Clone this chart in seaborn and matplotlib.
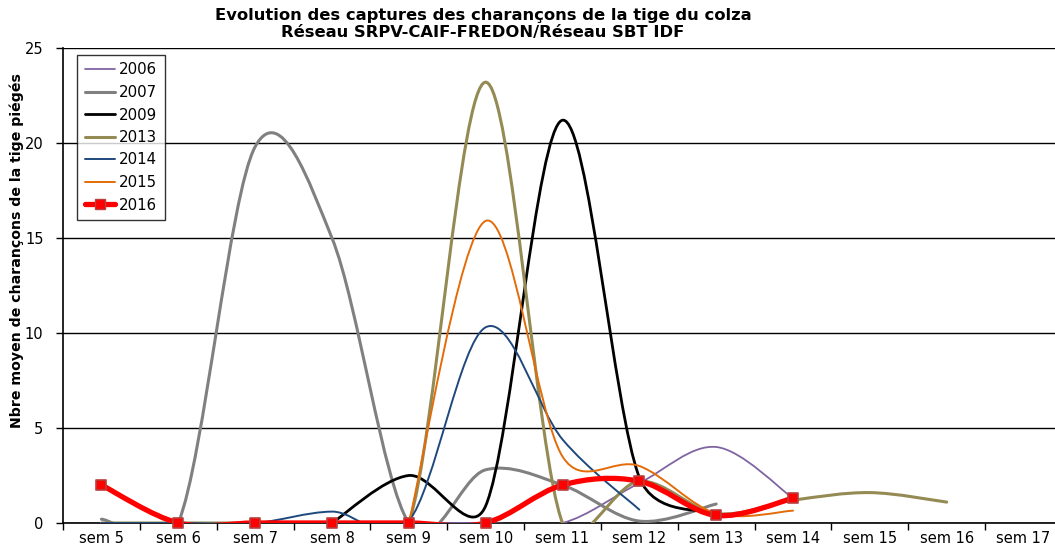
import matplotlib
matplotlib.use('Agg')
import matplotlib.pyplot as plt
from matplotlib.path import Path
from matplotlib.patches import PathPatch
from matplotlib.lines import Line2D
import seaborn as sns
import pandas as pd
import math

# donnees
semaines = ['sem 5', 'sem 6', 'sem 7', 'sem 8', 'sem 9', 'sem 10', 'sem 11',
            'sem 12', 'sem 13', 'sem 14', 'sem 15', 'sem 16', 'sem 17']

v2006 = [0, 0, 0, 0, 0, 0, 0, 2.1, 4.0, 1.3, None, None, None]
v2007 = [0.2, 0, 19.8, 15.0, 0, 2.8, 2.0, 0.1, 1.0, None, None, None, None]
v2009 = [None, None, None, 0, 2.5, 0.9, 21.2, 2.4, 0.5, None, None, None, None]
v2013 = [0, 0, 0, 0, 0, 23.2, 0, 2.2, 0.5, 1.2, 1.6, 1.1, None]
v2014 = [0, 0, 0, 0.6, 0.1, 10.3, 4.4, 0.7, None, None, None, None, None]
v2015 = [None, None, None, None, 0, 15.9, 3.5, 3.0, 0.5, 0.65, None, None, None]
v2016 = [2.0, 0, 0, 0, 0, 0, 2.0, 2.2, 0.4, 1.3, None, None, None]

series = {'2006': v2006, '2007': v2007, '2009': v2009, '2013': v2013,
          '2014': v2014, '2015': v2015, '2016': v2016}
couleurs = {'2006': '#8064A2', '2007': '#808080', '2009': '#000000',
            '2013': '#948A54', '2014': '#1F497D', '2015': '#E36C09',
            '2016': '#FF0000'}
epaisseurs = {'2006': 1.3, '2007': 2.2, '2009': 2.0, '2013': 2.2,
              '2014': 1.4, '2015': 1.4, '2016': 3.8}

sns.set_style('white')
plt.rcParams['font.family'] = ['DejaVu Sans']
plt.rcParams['text.color'] = 'black'
plt.rcParams['axes.labelcolor'] = 'black'
plt.rcParams['xtick.color'] = 'black'
plt.rcParams['ytick.color'] = 'black'

fig = plt.figure(figsize=(10.55, 5.46), dpi=100)
ax = fig.add_axes([63 / 1055, 1 - 523 / 546, 999 / 1055, 475 / 546])

# echelle en pixels (pour le lissage type Excel)
SX, SY = 77.0, 19.0


def courbe_lisse(xs, ys):
    # courbe de Bezier facon "lissage" Excel
    # (Catmull-Rom, poignees limitees a la moitie du segment)
    pts = list(zip(xs, ys))
    verts = [pts[0]]
    codes = [Path.MOVETO]
    n = len(pts)

    def d(a, b):
        return math.hypot((b[0] - a[0]) * SX, (b[1] - a[1]) * SY)

    for i in range(n - 1):
        p0 = pts[i - 1] if i > 0 else pts[i]
        p1 = pts[i]
        p2 = pts[i + 1]
        p3 = pts[i + 2] if i + 2 < n else pts[i + 1]
        d02, d12, d13 = d(p0, p2), d(p1, p2), d(p1, p3)
        f1 = 1 / 6 if d02 / 6 <= d12 / 2 else d12 / (2 * d02)
        f2 = 1 / 6 if d13 / 6 <= d12 / 2 else d12 / (2 * d13)
        c1 = (p1[0] + (p2[0] - p0[0]) * f1, p1[1] + (p2[1] - p0[1]) * f1)
        c2 = (p2[0] - (p3[0] - p1[0]) * f2, p2[1] - (p3[1] - p1[1]) * f2)
        verts += [c1, c2, p2]
        codes += [Path.CURVE4] * 3
    return Path(verts, codes)


handles = []
for k, (annee, vals) in enumerate(series.items()):
    df = pd.DataFrame({'x': range(len(semaines)), 'y': vals}).dropna()
    p = courbe_lisse(df['x'].tolist(), df['y'].tolist())
    ax.add_patch(PathPatch(p, fill=False, edgecolor=couleurs[annee],
                           lw=epaisseurs[annee], zorder=3 + k,
                           capstyle='round', joinstyle='round'))
    if annee == '2016':
        sns.scatterplot(x='x', y='y', data=df, marker='s', s=42,
                        color='#FF0000', edgecolor='#B8403E', linewidth=1.2,
                        zorder=20, ax=ax, legend=False, clip_on=False)
        handles.append(Line2D([], [], color='#FF0000', lw=3.8, marker='s',
                              markersize=6.5, markerfacecolor='#FF0000',
                              markeredgecolor='#B8403E', label=annee))
    else:
        handles.append(Line2D([], [], color=couleurs[annee],
                              lw=epaisseurs[annee], label=annee))

ax.set_xlim(-0.5, 12.5)
ax.set_ylim(0, 25)

# axe x: graduations entre les categories
ax.set_xticks([i - 0.5 for i in range(len(semaines) + 1)])
ax.set_xticklabels([])
ax.set_xticks(range(len(semaines)), minor=True)
ax.set_xticklabels(semaines, minor=True, fontsize=10.5)
ax.tick_params(axis='x', which='major', direction='out', length=5,
               width=1, color='black', bottom=True)
ax.tick_params(axis='x', which='minor', length=0, pad=6)

ax.set_yticks([0, 5, 10, 15, 20, 25])
ax.tick_params(axis='y', direction='out', length=5, width=1,
               color='black', labelsize=10.5, left=True, pad=9)

ax.grid(axis='y', color='black', lw=1)
ax.set_axisbelow(True)
for s in ['top', 'right']:
    ax.spines[s].set_visible(False)
for s in ['left', 'bottom']:
    ax.spines[s].set_color('black')
    ax.spines[s].set_linewidth(1.2)

ax.set_xlabel('')
ax.set_ylabel('Nbre moyen de charançons de la tige piégés', fontsize=10.2,
              fontweight='bold')
ax.yaxis.set_label_coords((24 - 63) / 999, (523 - 251) / 475)

fig.text(483 / 1055, 1 - 24 / 546,
         'Evolution des captures des charançons de la tige du colza\n'
         'Réseau SRPV-CAIF-FREDON/Réseau SBT IDF',
         ha='center', va='center', fontsize=11.8, fontweight='bold',
         linespacing=1.1)

leg = ax.legend(handles=handles, loc='upper left',
                bbox_to_anchor=(14 / 999, 1 - 7 / 475), fontsize=10.8,
                frameon=True, fancybox=False, edgecolor='black',
                handlelength=2.0, handletextpad=0.3, labelspacing=0.5,
                borderpad=0.5, borderaxespad=0)
leg.get_frame().set_linewidth(1)
leg.set_zorder(30)

plt.savefig('out.png', dpi=100)
